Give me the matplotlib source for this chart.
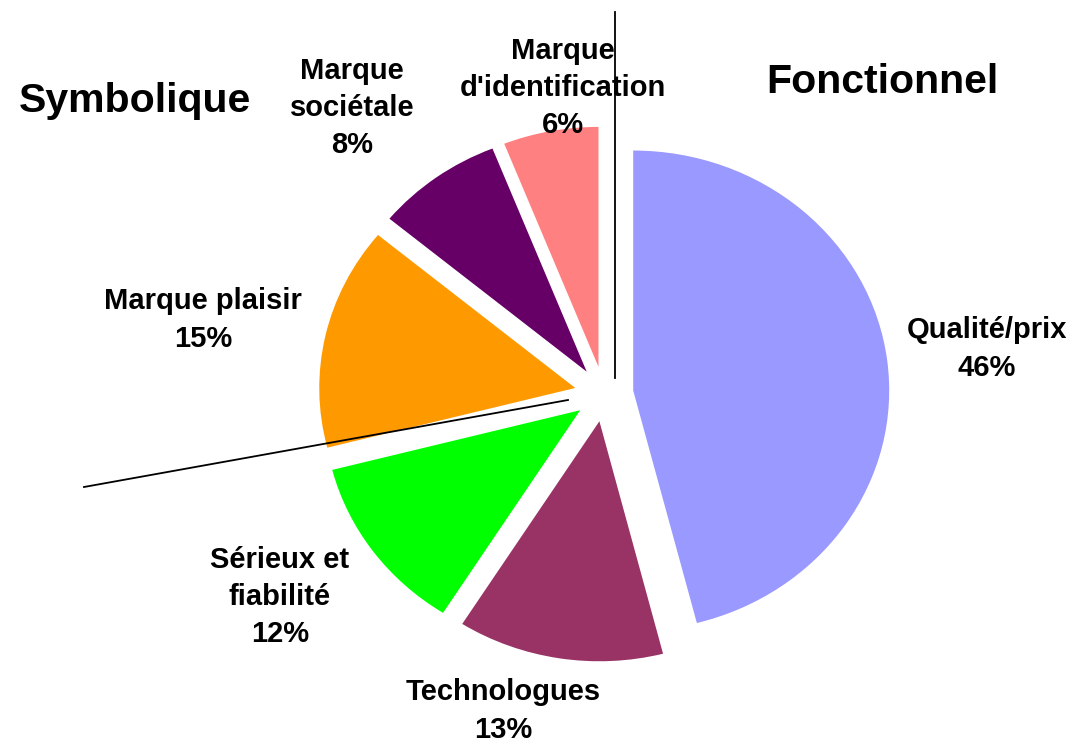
import matplotlib.pyplot as plt

plt.rcParams['font.family'] = ['Liberation Sans', 'DejaVu Sans']

# slices, clockwise from 12 o'clock
labels = ["Qualité/prix", "Technologues", "Sérieux et\nfiabilité",
          "Marque plaisir", "Marque\nsociétale", "Marque\nd'identification"]
shares = [46, 13, 12, 15, 8, 6]
colors = ["#9999FF", "#993366", "#00FF00", "#FF9900", "#660066", "#FF8080"]

# label positions in pixels (x, y from top)
label_pos = [(987, 349), (503, 711), (280, 597), (203, 320), (352, 108), (563, 88)]

groups = ["Symbolique", "Fonctionnel"]
group_pos = [(135, 101), (882, 82)]

# divider lines in pixels
dividers = [((615, 12), (615, 378)), ((84, 487), (568, 400))]

W, H = 1079, 742
cx, cy = 604, 394   # pie centre, px
rx, ry = 256, 240   # the original pie is a bit squashed

fig = plt.figure(figsize=(W / 100, H / 100), dpi=100)
ax = fig.add_axes([0, 0, 1, 1])
ax.pie(shares, colors=colors, startangle=90, counterclock=False,
       explode=[0.115] * len(shares), wedgeprops=dict(linewidth=0))
ax.set_aspect('auto')
ax.set_xlim(-cx / rx, (W - cx) / rx)
ax.set_ylim(-(H - cy) / ry, cy / ry)
ax.axis('off')

# overlay in pixel coords for the text and lines
ov = fig.add_axes([0, 0, 1, 1])
ov.set_xlim(0, W)
ov.set_ylim(H, 0)
ov.axis('off')
ov.patch.set_alpha(0)

for (p0, p1) in dividers:
    ov.plot([p0[0], p1[0]], [p0[1], p1[1]], color='black', lw=1.3)

for lab, v, (x, y) in zip(labels, shares, label_pos):
    ov.text(x, y, f"{lab}\n{v}%", ha='center', va='center', fontsize=21,
            fontweight='bold', linespacing=1.42)

for g, (x, y) in zip(groups, group_pos):
    ov.text(x, y, g, ha='center', va='center', fontsize=29.5, fontweight='bold')

fig.savefig("out.png", dpi=100)
